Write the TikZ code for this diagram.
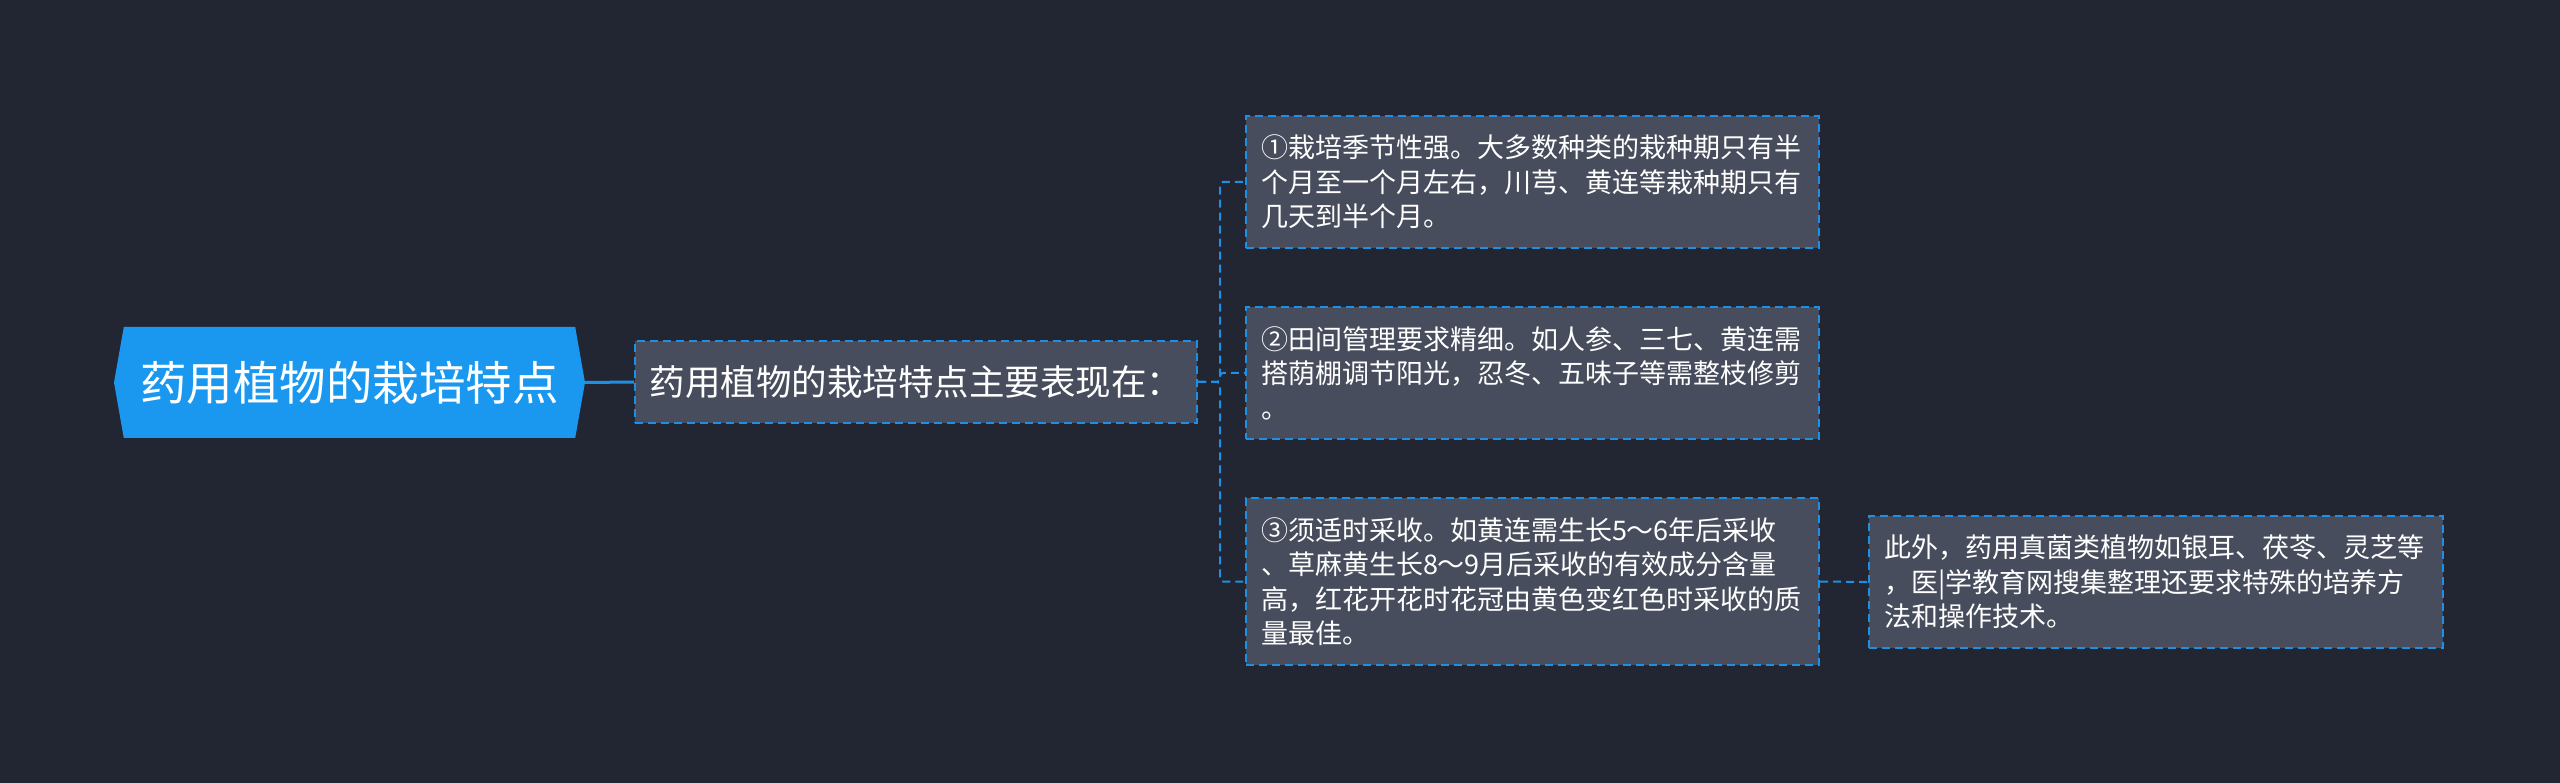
\documentclass[tikz,border=0pt]{standalone}
\usepackage{fontspec}
\setmainfont{Noto Sans CJK SC}
\usetikzlibrary{shapes.symbols}
\definecolor{bgcol}{RGB}{34,37,50}
\definecolor{rootblue}{RGB}{26,152,240}
\definecolor{linkblue}{RGB}{30,144,228}
\definecolor{boxgray}{RGB}{71,77,92}

\begin{document}
\begin{tikzpicture}[x=1pt,y=-1pt]
\tikzstyle{topic}=[shape=signal,signal to=west and east,signal pointer angle=160,fill=rootblue,text=white,inner sep=0pt,minimum width=471pt,minimum height=111pt,font=\fontsize{46.5}{54}\selectfont]
\tikzstyle{leaf}=[draw=linkblue,line width=2pt,dash pattern=on 8pt off 5pt,fill=boxgray,text=white,inner sep=0pt,align=left,font=\fontsize{27}{34.5}\selectfont]
\tikzstyle{link}=[draw=linkblue,line width=2pt,dash pattern=on 8pt off 5pt,rounded corners=3pt]
\fill[bgcol] (0,0) rectangle (2560,783);
\useasboundingbox (0,0) rectangle (2560,783);
\path (349.5,382.5) node[topic](root){药用植物的栽培特点}
      (916,382) node[leaf,minimum width=562pt,minimum height=82pt,font=\fontsize{35.5}{42}\selectfont](main){药用植物的栽培特点主要表现在：}
      (1532.5,182) node[leaf,minimum width=573pt,minimum height=132pt,text width=543pt](p1){①栽培季节性强。大多数种类的栽种期只有半\\个月至一个月左右，川芎、黄连等栽种期只有\\几天到半个月。}
      (1532.5,373) node[leaf,minimum width=573pt,minimum height=132pt,text width=543pt](p2){②田间管理要求精细。如人参、三七、黄连需\\搭荫棚调节阳光，忍冬、五味子等需整枝修剪\\。}
      (1532.5,581.5) node[leaf,minimum width=573pt,minimum height=167pt,text width=543pt](p3){③须适时采收。如黄连需生长5～6年后采收\\、草麻黄生长8～9月后采收的有效成分含量\\高，红花开花时花冠由黄色变红色时采收的质\\量最佳。}
      (2156,582) node[leaf,minimum width=574pt,minimum height=132pt,text width=544pt](p4){此外，药用真菌类植物如银耳、茯苓、灵芝等\\，医|学教育网搜集整理还要求特殊的培养方\\法和操作技术。};
\draw[draw=linkblue,line width=3pt] (root.east) -- (main.west);
\draw[link] (main.east) -- ([xshift=-25pt]p1.west |- main.east) |- (p1.west);
\draw[link] (main.east) -- ([xshift=-25pt]p2.west |- main.east) |- (p2.west);
\draw[link] (main.east) -- ([xshift=-25pt]p3.west |- main.east) |- (p3.west);
\draw[link] (p3.east) -- (p4.west);
\end{tikzpicture}
\end{document}
